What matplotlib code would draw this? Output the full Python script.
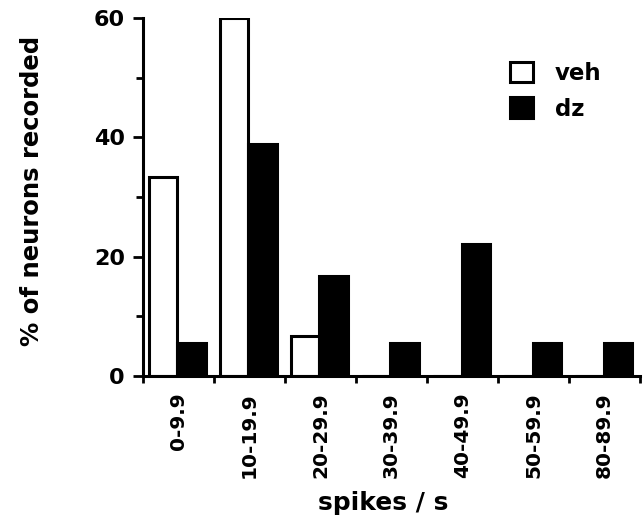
import numpy as np
import matplotlib
matplotlib.use("Agg")
from matplotlib import pyplot as plt
from matplotlib.patches import Patch

categories = ['0-9.9', '10-19.9', '20-29.9', '30-39.9', '40-49.9', '50-59.9', '80-89.9']
veh = [33.3, 60.0, 6.7, 0, 0, 0, 0]
dz = [5.6, 38.9, 16.7, 5.6, 22.2, 5.6, 5.6]

plt.rcParams['font.family'] = ['DejaVu Sans']
plt.rcParams['font.weight'] = 'bold'

fig = plt.figure(figsize=(6.44, 5.16), dpi=100)
ax = fig.add_axes([0.222, 0.271, 0.772, 0.694])

x = np.arange(len(categories))
w = 0.405
ax.bar(x + 0.08, veh, width=w, align='edge', color='white', edgecolor='black', linewidth=2.2)
ax.bar(x + 0.08 + w, dz, width=w, align='edge', color='black', edgecolor='black', linewidth=2.2)

ax.set_xlim(0, len(categories))
ax.set_ylim(0, 60)
ax.set_yticks([0, 20, 40, 60])
ax.set_yticks([10, 30, 50], minor=True)
ax.set_xticks(np.arange(len(categories) + 1))
ax.set_xticklabels([])
ax.set_xticks(x + 0.5, minor=True)
ax.set_xticklabels(categories, minor=True, rotation=90, fontsize=14.5, fontweight='bold')
ax.tick_params(axis='x', which='minor', length=0, pad=12)
ax.tick_params(axis='x', which='major', direction='out', length=5, width=2)
ax.tick_params(axis='y', which='both', direction='out', width=2, labelsize=16, pad=6)
ax.tick_params(axis='y', which='major', length=7)
ax.tick_params(axis='y', which='minor', length=5)

for s in ['top', 'right']:
    ax.spines[s].set_visible(False)
for s in ['left', 'bottom']:
    ax.spines[s].set_linewidth(2.2)

ax.set_ylabel('% of neurons recorded', fontsize=17.5, fontweight='bold')
ax.yaxis.set_label_coords(-0.2, 0.517)
ax.set_xlabel('spikes / s', fontsize=18, fontweight='bold')
ax.xaxis.set_label_coords(0.483, -0.32)

handles = [Patch(facecolor='white', edgecolor='black', linewidth=2.2, label='veh'),
           Patch(facecolor='black', edgecolor='black', linewidth=2.2, label='dz')]
ax.legend(handles=handles, loc='upper left', bbox_to_anchor=(0.738, 0.878), frameon=False,
          borderpad=0, borderaxespad=0,
          fontsize=16.5, handlelength=1.0, handleheight=1.0, handletextpad=0.95, labelspacing=0.55)

fig.savefig('out.png', dpi=100)
